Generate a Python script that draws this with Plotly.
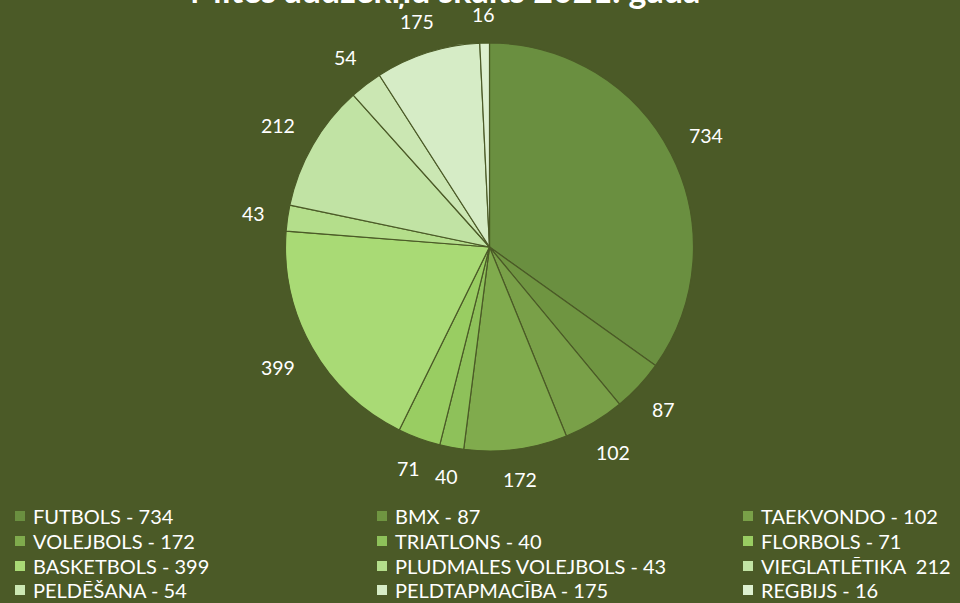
import math

import plotly.graph_objects as go

TITLE = "Mītes audzēkņu skaits 2021. gadā"

sports = [
    "FUTBOLS - 734", "BMX - 87", "TAEKVONDO - 102",
    "VOLEJBOLS - 172", "TRIATLONS - 40", "FLORBOLS - 71",
    "BASKETBOLS - 399", "PLUDMALES VOLEJBOLS - 43", "VIEGLATLĒTIKA  212",
    "PELDĒŠANA - 54", "PELDTAPMACĪBA - 175", "REGBIJS - 16",
]
students = [734, 87, 102, 172, 40, 71, 399, 43, 212, 54, 175, 16]

colors = [
    "#6a8f40", "#6f9541", "#79a048", "#80ab4d", "#8ec15a", "#99cd62",
    "#a9da75", "#b4de8b", "#c1e3a4", "#cbe7b3", "#d6ecc6", "#ddf0d0",
]

BG = "#4b5a27"
FONT = "Lato, 'Open Sans', sans-serif"
W, H = 960, 603

# pie geometry (pixels)
CX, CY, R = 489.5, 247.0, 204.0
LABEL_SIZE = 19.5
LEGEND_SIZE = 20

fig = go.Figure(
    go.Pie(
        labels=sports,
        values=students,
        sort=False,
        direction="clockwise",
        rotation=0,
        marker=dict(colors=colors, line=dict(color=BG, width=1.2)),
        textinfo="none",
        domain=dict(x=[(CX - R) / W, (CX + R) / W], y=[1 - (CY + R) / H, 1 - (CY - R) / H]),
        automargin=False,
        showlegend=False,
        hoverinfo="label+percent",
    )
)

# value labels just outside each slice (Excel "outside end" style)
total = sum(students)
cum = 0
for v in students:
    theta = 2 * math.pi * (cum + v / 2) / total
    cum += v
    s, c = math.sin(theta), math.cos(theta)
    hw = 0.29 * LABEL_SIZE * len(str(v))
    d = R + 22 + hw * abs(s) + 6 * abs(c)
    px, py = CX + d * s, CY - d * c
    fig.add_annotation(
        x=px / W, y=1 - py / H, xref="paper", yref="paper",
        text=str(v), showarrow=False, xanchor="center", yanchor="middle",
        font=dict(color="white", size=LABEL_SIZE, family=FONT),
    )

# legend: 3 columns x 4 rows
col_sq = [15, 377, 743]
row_y = [516, 541, 566, 590]
for i, (name, col) in enumerate(zip(sports, colors)):
    sx, sy = col_sq[i % 3], row_y[i // 3]
    fig.add_shape(
        type="rect", xref="paper", yref="paper",
        x0=sx / W, x1=(sx + 10) / W, y0=1 - (sy + 5) / H, y1=1 - (sy - 5) / H,
        fillcolor=col, line=dict(width=0),
    )
    fig.add_annotation(
        x=(sx + 16) / W, y=1 - sy / H, xref="paper", yref="paper",
        text=name, showarrow=False, xanchor="left", yanchor="middle",
        font=dict(color="white", size=LEGEND_SIZE, family=FONT),
    )

# title sits partly above the top edge, as in the reference
fig.add_annotation(
    x=445 / W, y=1, xref="paper", yref="paper", yshift=11,
    text="<b>" + TITLE + "</b>", showarrow=False,
    xanchor="center", yanchor="middle",
    font=dict(size=34, color="white", family=FONT),
)

fig.update_layout(
    width=W,
    height=H,
    paper_bgcolor=BG,
    plot_bgcolor=BG,
    margin=dict(l=0, r=0, t=0, b=0),
    font=dict(family=FONT, color="white"),
    showlegend=False,
)

fig.write_html(
    "out.html",
    config={"displayModeBar": False},
    post_script="document.body.style.margin='0';",
)
